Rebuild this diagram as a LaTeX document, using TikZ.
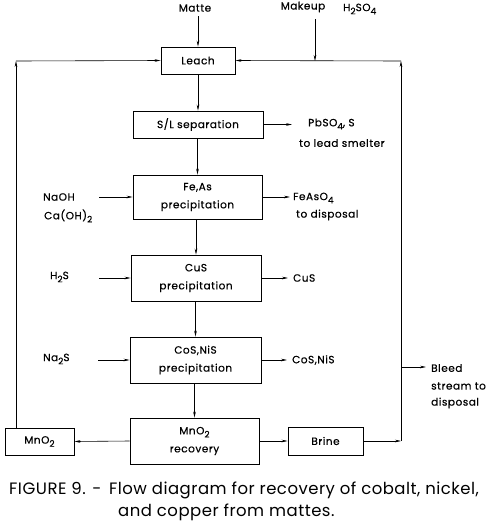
\documentclass[tikz,border=0pt]{standalone}
\usepackage{fontspec}
\setmainfont{Poppins}
\newfontfamily\lblfont[LetterSpace=5,FakeBold=0.5]{Poppins}
\newfontfamily\capfont[LetterSpace=3]{Poppins}
\usetikzlibrary{arrows.meta}
\newcommand{\subd}[1]{\raisebox{-0.55ex}{\fontsize{9}{9}\selectfont #1}}
\begin{document}
\begin{tikzpicture}[x=1pt,y=-1pt,
  lbl/.style={font=\lblfont\fontsize{10.5}{12}\selectfont, inner sep=0pt},
  lbll/.style={lbl, anchor=west},
  box/.style={draw, line width=0.8pt, inner sep=0pt, align=center, font=\lblfont\fontsize{10.5}{18}\selectfont},
  arr/.style={line width=0.6pt, -{Stealth[length=6pt,width=2.6pt]}},
  ln/.style={line width=0.6pt}]
\useasboundingbox[fill=white] (0,0) rectangle (492,523);
% boxes
\node[box, minimum width=74, minimum height=27] (leach) at (198,60.5) {Leach};
\node[box, minimum width=130, minimum height=27] (sl) at (198,124.5) {S/L separation};
\node[box, minimum width=129, minimum height=44] (feas) at (197.5,197) {Fe,As\\precipitation};
\node[box, minimum width=130, minimum height=46] (cus) at (196,278) {CuS\\precipitation};
\node[box, minimum width=131, minimum height=46] (cos) at (195.5,360) {CoS,NiS\\precipitation};
\node[box, minimum width=129, minimum height=46] (mnr) at (194.5,441) {MnO\subd{2}\\recovery};
\node[box, minimum width=69, minimum height=27] (mno) at (39.5,441.5) {MnO\subd{2}};
\node[box, minimum width=75, minimum height=28] (brine) at (325.5,441) {Brine};
% labels
\node[lbl] (matte) at (195,8) {Matte};
\node[lbl] (makeup) at (303,7) {Makeup};
\node[lbll] (h2so4) at (343,9) {H\subd{2}SO\subd{4}};
\node[lbll] (pbso) at (308,124) {PbSO\subd{4}, S};
\node[lbll] (lead) at (299,143) {to lead smelter};
\node[lbll] (feaso) at (293,198) {FeAsO\subd{4}};
\node[lbll] (disp) at (296,215) {to disposal};
\node[lbll] (naoh) at (43,197) {NaOH};
\node[lbll] (caoh) at (44,216) {Ca(OH)\subd{2}};
\node[lbll] (h2s) at (50,277) {H\subd{2}S};
\node[lbll] (na2s) at (43,359) {Na\subd{2}S};
\node[lbll] (cuso) at (293,278) {CuS};
\node[lbll] (cosni) at (292,360) {CoS,NiS};
\node[lbll] (bleed) at (431,368) {Bleed};
\node[lbll] (stream) at (431,386) {stream to};
\node[lbll] (dispb) at (431,403) {disposal};
% coordinates
\coordinate (mattein) at (198,16);
\coordinate (mk) at (315,19);
\coordinate (mkj) at (315,61);
\coordinate (tl) at (16,61);
\coordinate (tr) at (401,61);
\coordinate (br) at (401,441);
\coordinate (bj) at (401,367);
\coordinate (bo) at (426,367);
\coordinate (in1) at (99,197);
\coordinate (in2) at (99,278);
\coordinate (in3) at (98,360);
\coordinate (o1) at (292,124.5);
\coordinate (o2) at (290,197);
\coordinate (o3) at (288,278);
\coordinate (o4) at (287,360);
% connectors
\draw[arr] (mattein) -- (leach.north);
\draw[arr] (mk) -- (mkj);
\draw[arr] (mno.north -| tl) -- (tl);
\draw[arr] (tl) -- (leach.west);
\draw[arr] (br) -- (tr);
\draw[arr] (tr) -- (leach.east);
\draw[arr] (leach.south) -- (sl.north);
\draw[arr] (sl.south -| feas.north) -- (feas.north);
\draw[arr] (feas.south -| cus.north) -- (cus.north);
\draw[arr] (cus.south -| cos.north) -- (cos.north);
\draw[arr] (cos.south -| mnr.north) -- (mnr.north);
\draw[arr] (mnr.west) -- (mno.east);
\draw[arr] (mnr.east) -- (brine.west);
\draw[arr] (brine.east) -- (br);
\draw[arr] (bj) -- (bo);
\draw[arr] (in1) -- (feas.west);
\draw[arr] (in2) -- (cus.west);
\draw[arr] (in3) -- (cos.west);
\draw[arr] (sl.east) -- (o1);
\draw[arr] (feas.east) -- (o2);
\draw[arr] (cus.east) -- (o3);
\draw[arr] (cos.east) -- (o4);
% caption
\node[anchor=base west, inner sep=0pt, font=\capfont\fontsize{16.5}{20}\selectfont] (cap1) at (9,494) {FIGURE 9. - \,Flow diagram for recovery of cobalt, nickel,};
\node[anchor=base west, inner sep=0pt, font=\capfont\fontsize{16.5}{20}\selectfont] (cap2) at (118,516) {and copper from mattes.};
\end{tikzpicture}
\end{document}
